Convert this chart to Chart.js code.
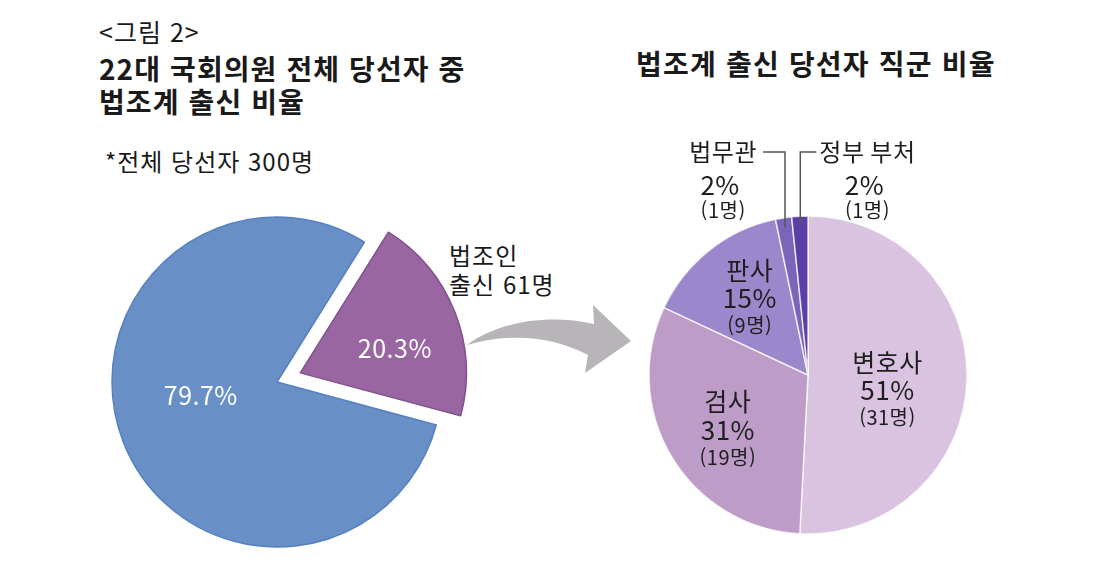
<!DOCTYPE html>
<html lang="ko">
<head>
<meta charset="utf-8">
<title>법조계 출신 당선자 비율</title>
<script src="https://cdn.jsdelivr.net/npm/chart.js@4.4.1/dist/chart.umd.min.js"></script>
<style>
  html, body { margin: 0; padding: 0; background: #fff; }
  body {
    width: 1110px; height: 570px; position: relative; overflow: hidden;
    font-family: "Noto Sans CJK KR", "Noto Sans", sans-serif; color: #1a1a1a;
  }
  .txt { position: absolute; white-space: nowrap; }
  #fig { left: 99px; top: 16px; font-size: 25px; line-height: 30px; letter-spacing: 1px; }
  #titleL { left: 99px; top: 52px; font-size: 28px; font-weight: 700; line-height: 33px; letter-spacing: 1.1px; }
  #titleR { left: 636px; top: 47px; font-size: 28px; font-weight: 700; line-height: 33px; letter-spacing: 1.2px; }
  #note { left: 105px; top: 146px; font-size: 24px; line-height: 30px; letter-spacing: 1px; }
  #lawyerNote { left: 449px; top: 240px; font-size: 24px; line-height: 29px; letter-spacing: 1px; }
  #arrow { position: absolute; left: 0; top: 0; }
  canvas { position: absolute; }
  #chartShare { left: 77px; top: 197px; }
  #chartJobs { left: 568px; top: 140px; }
</style>
</head>
<body>
  <div class="txt" id="fig">&lt;그림 2&gt;</div>
  <div class="txt" id="titleL">22대 국회의원 전체 당선자 중<br>법조계 출신 비율</div>
  <div class="txt" id="titleR">법조계 출신 당선자 직군 비율</div>
  <div class="txt" id="note">*전체 당선자 300명</div>
  <div class="txt" id="lawyerNote">법조인<br>출신 61명</div>

  <svg id="arrow" width="1110" height="570">
    <path d="M467,345 C492,326 540,312 594,324 L593,305 L631,341 L585,373 L588,355 C548,334 506,334 467,345 Z"
          fill="#b7b5b7" />
  </svg>

  <canvas id="chartShare" width="400" height="370"></canvas>
  <canvas id="chartJobs" width="480" height="470"></canvas>

<script>
  // ---- data ----
  const shareLabels = ["법조인 출신", "그 외"];
  const shareValues = [20.3, 79.7];

  const jobLabels = ["변호사", "검사", "판사", "법무관", "정부 부처"];
  const jobCounts = [31, 19, 9, 1, 1];
  const jobPercents = [51, 31, 15, 2, 2];

  // ---- styles ----
  const FONT = '"Noto Sans CJK KR", "Noto Sans", sans-serif';
  const shareColors = ["#9966a2", "#6890c6"];
  const shareBorders = ["#80508f", "#5581bf"];
  const jobColors = ["#d9c3e1", "#bd9cc7", "#9b88cc", "#7a65ba", "#5b3fa7"];

  // where each label sits: fraction of radius along the slice middle, plus a nudge
  const shareSpots = [
    { f: 0.59, dx: 4, dy: 11 },
    { f: 0.47, dx: -4, dy: -15 },
  ];
  const jobSpots = [
    { f: 0.5, dx: 0, dy: 13 },
    { f: 0.61, dx: 3, dy: 5 },
    { f: 0.6, dx: 1, dy: -2 },
    { leader: -1 },
    { leader: 1 },
  ];

  // Chart.js moves an offset slice by a quarter of its offset value
  function sliceGeom(chart, i) {
    const arc = chart.getDatasetMeta(0).data[i];
    const p = arc.getProps(["x", "y", "startAngle", "endAngle", "outerRadius"], true);
    const ds = chart.data.datasets[0];
    const off = Array.isArray(ds.offset) ? ds.offset[i] || 0 : ds.offset || 0;
    return { ...p, mid: (p.startAngle + p.endAngle) / 2, off: off / 4 };
  }

  const shareText = {
    id: "shareText",
    afterDatasetsDraw(chart) {
      const ctx = chart.ctx;
      ctx.save();
      ctx.fillStyle = "#ffffff";
      ctx.font = "25px " + FONT;
      ctx.letterSpacing = "0.5px";
      ctx.textAlign = "center";
      ctx.textBaseline = "middle";
      shareValues.forEach((v, i) => {
        const g = sliceGeom(chart, i);
        const s = shareSpots[i];
        const d = g.outerRadius * s.f + g.off;
        ctx.fillText(v.toFixed(1) + "%", g.x + Math.cos(g.mid) * d + s.dx, g.y + Math.sin(g.mid) * d + s.dy);
      });
      ctx.restore();
    },
  };

  const jobText = {
    id: "jobText",
    afterDatasetsDraw(chart) {
      const ctx = chart.ctx;
      ctx.save();
      ctx.fillStyle = "#1e1e1e";
      ctx.textBaseline = "middle";
      ctx.letterSpacing = "0.5px";
      jobLabels.forEach((name, i) => {
        const g = sliceGeom(chart, i);
        const s = jobSpots[i];
        const pct = jobPercents[i] + "%";
        const cnt = "(" + jobCounts[i] + "명)";
        if (s.leader) {
          // small slices: label above the pie with an elbow line
          const vx = g.x + Math.cos(g.mid) * g.outerRadius * 0.94;
          const vy = g.y + Math.sin(g.mid) * g.outerRadius * 0.94;
          const ly = g.y - 223;
          const hx = s.leader < 0 ? vx - 22 : vx + 16;
          ctx.strokeStyle = "#555555";
          ctx.lineWidth = 1.5;
          ctx.beginPath();
          ctx.moveTo(vx, vy);
          ctx.lineTo(vx, ly);
          ctx.lineTo(hx, ly);
          ctx.stroke();
          ctx.font = "24px " + FONT;
          const w = ctx.measureText(name).width;
          const cx = s.leader < 0 ? hx - 6 - w / 2 : hx + 3 + w / 2;
          ctx.textAlign = "center";
          ctx.fillText(name, cx, ly);
          ctx.font = "26px " + FONT;
          ctx.fillText(pct, cx - 3, ly + 33);
          ctx.font = "20px " + FONT;
          ctx.fillText(cnt, cx, ly + 58);
        } else {
          const d = g.outerRadius * s.f;
          const cx = g.x + Math.cos(g.mid) * d + s.dx;
          const cy = g.y + Math.sin(g.mid) * d + s.dy;
          ctx.textAlign = "center";
          ctx.font = "25px " + FONT;
          ctx.fillText(name, cx, cy - 28);
          ctx.font = "26px " + FONT;
          ctx.fillText(pct, cx, cy);
          ctx.font = "20px " + FONT;
          ctx.fillText(cnt, cx, cy + 27);
        }
      });
      ctx.restore();
    },
  };

  const baseOptions = {
    responsive: false,
    animation: false,
    devicePixelRatio: 1,
    layout: { padding: 0 },
    plugins: { legend: { display: false }, tooltip: { enabled: false } },
    events: [],
  };

  new Chart(document.getElementById("chartShare"), {
    type: "pie",
    data: {
      labels: shareLabels,
      datasets: [
        {
          data: shareValues,
          backgroundColor: shareColors,
          borderColor: shareBorders,
          borderWidth: 1.5,
          offset: [100, 0],
          hoverOffset: 0,
        },
      ],
    },
    options: { ...baseOptions, radius: 165, rotation: 32 },
    plugins: [shareText],
  });

  new Chart(document.getElementById("chartJobs"), {
    type: "pie",
    data: {
      labels: jobLabels,
      datasets: [
        {
          data: jobCounts,
          backgroundColor: jobColors,
          borderColor: "rgba(255,255,255,0.75)",
          borderWidth: 1.5,
          hoverOffset: 0,
        },
      ],
    },
    options: { ...baseOptions, radius: 159, rotation: 0 },
    plugins: [jobText],
  });
</script>
</body>
</html>
